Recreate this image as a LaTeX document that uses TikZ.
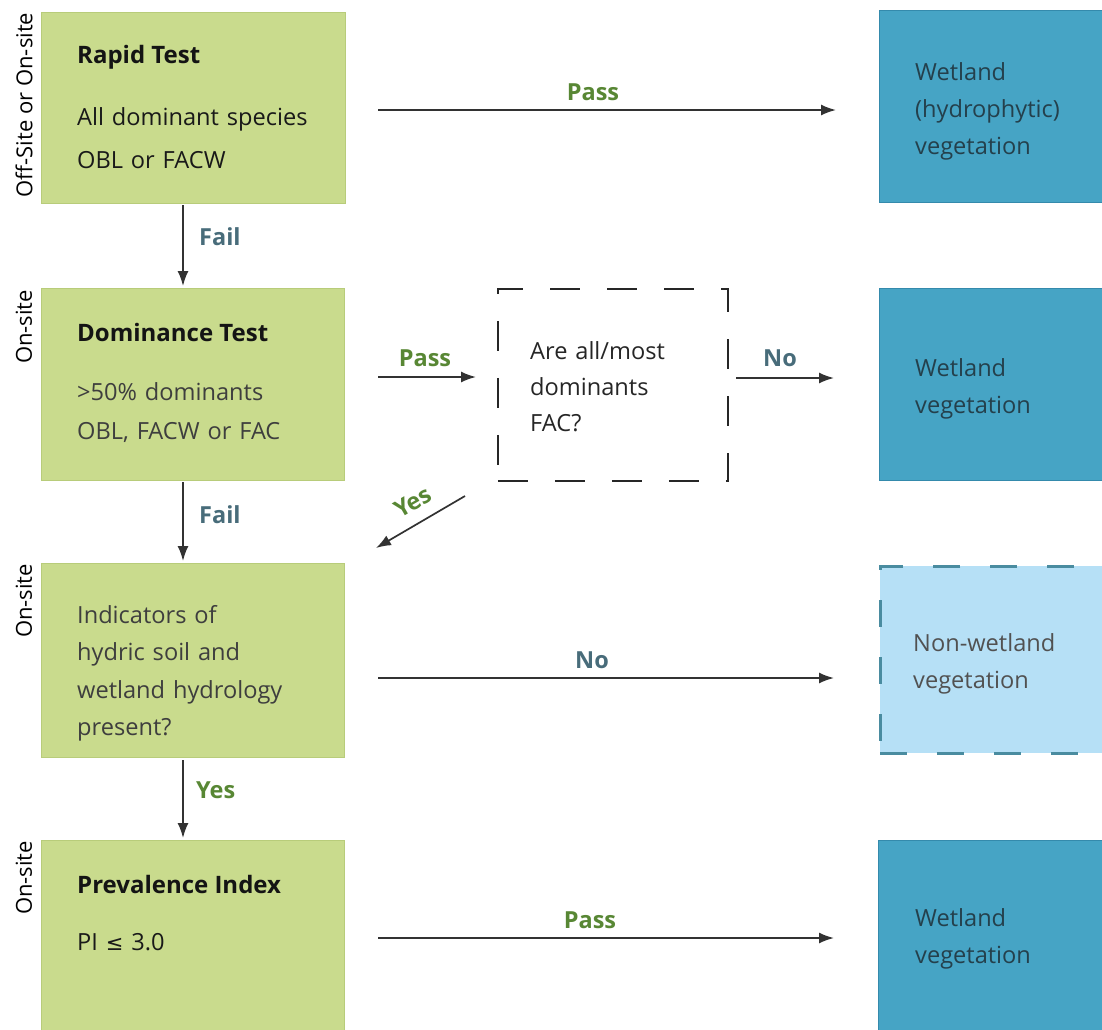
\documentclass[tikz,border=0pt]{standalone}
\usepackage{fontspec}
\setmainfont{Open Sans}
\newfontfamily\dejavu{DejaVu Sans}
\usetikzlibrary{arrows.meta}
\definecolor{gfill}{RGB}{201,219,141}
\definecolor{gedge}{RGB}{184,204,122}
\definecolor{bfill}{RGB}{70,164,197}
\definecolor{bedge}{RGB}{52,138,172}
\definecolor{btext}{RGB}{36,64,76}
\definecolor{lfill}{RGB}{182,224,246}
\definecolor{ledge}{RGB}{74,140,160}
\definecolor{arrc}{RGB}{50,50,50}
\definecolor{passc}{RGB}{88,135,52}
\definecolor{noc}{RGB}{72,108,122}
\definecolor{txtg}{RGB}{62,62,62}
\begin{document}
\begin{tikzpicture}[x=1pt,y=-1pt,
  gbox/.style={fill=gfill, draw=gedge, line width=0.8pt, anchor=north west, inner sep=0pt},
  bbox/.style={fill=bfill, draw=bedge, line width=0.8pt, anchor=north west, inner sep=0pt},
  lbox/.style={fill=lfill, draw=ledge, line width=2.6pt, dash pattern=on 27pt off 30pt, anchor=north west, inner sep=0pt},
  qbox/.style={draw=black!85, line width=1.6pt, dash pattern=on 30pt off 27pt, anchor=north west, inner sep=0pt},
  ttl/.style={anchor=base west, font=\fontsize{24}{28}\selectfont\bfseries, text=black!92, inner sep=0pt},
  body/.style={anchor=base west, text width=290pt, align=left, inner sep=0pt, text=txtg},
  btx/.style={anchor=base west, text width=185pt, align=left, inner sep=0pt, text=btext, font=\fontsize{23.6}{37}\selectfont},
  side/.style={rotate=90, font=\fontsize{22}{26}\selectfont, inner sep=0pt},
  arr/.style={draw=arrc, line width=1.7pt, -{Latex[length=15pt,width=11pt]}},
  lpass/.style={font=\fontsize{23.5}{26}\selectfont\bfseries, text=passc, inner sep=1pt},
  lno/.style={font=\fontsize{23.5}{26}\selectfont\bfseries, text=noc, inner sep=1pt}
]
\useasboundingbox (0,0) rectangle (1102,1029);
\clip (0,0) rectangle (1102,1029);

% left column boxes
\node[gbox, minimum width=304pt, minimum height=191pt] (rapid) at (41,12) {};
\node[gbox, minimum width=303pt, minimum height=192pt] (dom) at (41,288) {};
\node[gbox, minimum width=303pt, minimum height=194pt] (ind) at (41,563) {};
\node[gbox, minimum width=303pt, minimum height=200pt] (prev) at (41,840) {};

% right column boxes
\node[bbox, minimum width=240pt, minimum height=192pt] (wet1) at (879,10) {};
\node[bbox, minimum width=240pt, minimum height=192pt] (wet2) at (879,288) {};
\node[lbox, minimum width=260pt, minimum height=187pt] (nonwet) at (879,565) {};
\node[bbox, minimum width=240pt, minimum height=200pt] (wet4) at (878,840) {};

% question box
\node[qbox, minimum width=230pt, minimum height=192pt] (q) at (497,288) {};

% texts in green boxes
\node[ttl] (t1) at (77,63) {Rapid Test};
\node[body, text=black!90, font=\fontsize{23.6}{43}\selectfont] (b1) at (77,125) {All dominant species\\OBL or FACW};
\node[ttl] (t2) at (77,341) {Dominance Test};
\node[body, font=\fontsize{23.6}{39}\selectfont] (b2) at (77,400) {>50\% dominants\\OBL, FACW or FAC};
\node[body, font=\fontsize{23.6}{37.5}\selectfont] (b3) at (77,623) {Indicators of\\hydric soil and\\wetland hydrology\\present?};
\node[ttl] (t4) at (77,893) {Prevalence Index};
\node[body, text=black!90, font=\fontsize{23.6}{28}\selectfont] (b4) at (77,950) {PI {\dejavu\fontsize{21}{28}\selectfont ≤} 3.0};

% question text
\node[body, text width=190pt, text=black!85, font=\fontsize{23.6}{36}\selectfont] (qt) at (530,359) {Are all/most\\dominants\\FAC?};

% texts in blue boxes
\node[btx] (w1) at (915,80) {Wetland\\(hydrophytic)\\vegetation};
\node[btx] (w2) at (915,376) {Wetland\\vegetation};
\node[btx, text=txtg!90] (w3) at (913,651) {Non-wetland\\vegetation};
\node[btx] (w4) at (915,926) {Wetland\\vegetation};

% side labels
\node[side] (s1) at (24,105) {Off-Site or On-site};
\node[side] (s2) at (24,327) {On-site};
\node[side] (s3) at (24,601) {On-site};
\node[side] (s4) at (24,878) {On-site};

% connector end points
\coordinate (a1s) at (378,110);  \coordinate (a1e) at (836,110);
\coordinate (a2s) at (378,377);  \coordinate (a2e) at (476,377);
\coordinate (a3s) at (736,378);  \coordinate (a3e) at (834,378);
\coordinate (a4s) at (378,678);  \coordinate (a4e) at (834,678);
\coordinate (a5s) at (378,938);  \coordinate (a5e) at (834,938);
\coordinate (v1s) at (183,205);  \coordinate (v1e) at (183,286);
\coordinate (v2s) at (183,482);  \coordinate (v2e) at (183,561);
\coordinate (v3s) at (183,760);  \coordinate (v3e) at (183,838);
\coordinate (ds) at (465,496);   \coordinate (de) at (376,548);

\draw[arr] (a1s) -- (a1e);
\node[lpass] (l1) at (593,92) {Pass};
\draw[arr] (a2s) -- (a2e);
\node[lpass] (l2) at (425,358) {Pass};
\draw[arr] (a3s) -- (a3e);
\node[lno] (l3) at (780,358) {No};
\draw[arr] (a4s) -- (a4e);
\node[lno] (l4) at (592,660) {No};
\draw[arr] (a5s) -- (a5e);
\node[lpass] (l5) at (590,920) {Pass};
\draw[arr] (v1s) -- (v1e);
\node[lno, anchor=west] (l6) at (198,237) {Fail};
\draw[arr] (v2s) -- (v2e);
\node[lno, anchor=west] (l7) at (198,515) {Fail};
\draw[arr] (v3s) -- (v3e);
\node[lpass, anchor=west] (l8) at (195,790) {Yes};
\draw[arr] (ds) -- (de);
\node[lpass, rotate=30] (l9) at (413,502) {Yes};
\end{tikzpicture}
\end{document}
